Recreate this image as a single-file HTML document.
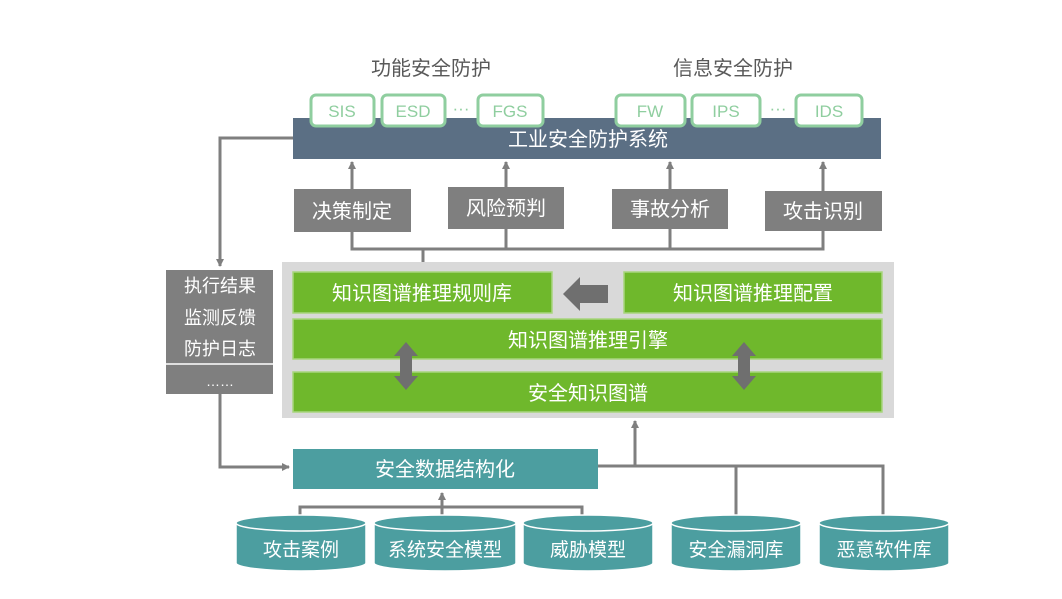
<!DOCTYPE html>
<html><head><meta charset="utf-8"><style>
html,body{margin:0;padding:0;background:#fff;}
svg text{font-family:"Liberation Sans","Noto Sans CJK SC",sans-serif;}
</style></head><body>
<svg width="1062" height="594" viewBox="0 0 1062 594" xmlns="http://www.w3.org/2000/svg">
<defs>
<marker id="ah" markerWidth="8" markerHeight="8" refX="7" refY="4" orient="auto" markerUnits="userSpaceOnUse">
<path d="M0,0 L8,4 L0,8 z" fill="#7f7f7f"/></marker>
</defs>
<g font-size="20" fill="#595959" text-anchor="middle">
<text x="431" y="75">功能安全防护</text>
<text x="733" y="75">信息安全防护</text>
</g>
<!-- main bar -->
<rect x="293" y="118" width="588" height="41" fill="#5b6f84"/>
<text x="588" y="146" font-size="20" fill="#fff" text-anchor="middle">工业安全防护系统</text>
<!-- small boxes -->
<g fill="#fff" stroke="#8fce9f" stroke-width="3">
<rect x="311" y="95" width="63" height="31" rx="5"/>
<rect x="382" y="95" width="63" height="31" rx="5"/>
<rect x="478" y="95" width="65" height="31" rx="5"/>
<rect x="616" y="95" width="69" height="31" rx="5"/>
<rect x="692" y="95" width="68" height="31" rx="5"/>
<rect x="796" y="95" width="66" height="31" rx="5"/>
</g>
<g font-size="17" fill="#8fce9f" text-anchor="middle">
<text x="342" y="117">SIS</text><text x="413" y="117">ESD</text><text x="510" y="117">FGS</text>
<text x="650" y="117">FW</text><text x="726" y="117">IPS</text><text x="829" y="117">IDS</text>
<text x="461" y="114">···</text><text x="778" y="114">···</text>
</g>
<!-- lines -->
<g stroke="#7f7f7f" stroke-width="3" fill="none">
<path d="M293,138 H220 V266" marker-end="url(#ah)"/>
<path d="M352,189 V162" marker-end="url(#ah)"/>
<path d="M506,188 V162" marker-end="url(#ah)"/>
<path d="M670,189 V162" marker-end="url(#ah)"/>
<path d="M823,191 V162" marker-end="url(#ah)"/>
<path d="M352,232 V249 H823 V231"/>
<path d="M506,229 V249 M670,229 V249"/>
<path d="M423,249 V272"/>
<path d="M220,394 V467 H289" marker-end="url(#ah)"/>
<path d="M598,466 H883 V516 M736,466 V518"/>
<path d="M635,466 V421" marker-end="url(#ah)"/>
<path d="M300,520 V507 H582 V520 M442,520 V493" marker-end="url(#ah)"/>
</g>
<!-- gray boxes -->
<g fill="#7f7f7f">
<rect x="294" y="189" width="117" height="43"/>
<rect x="448" y="187" width="116" height="42"/>
<rect x="612" y="189" width="116" height="40"/>
<rect x="765" y="191" width="117" height="40"/>
</g>
<g font-size="20" fill="#fff" text-anchor="middle">
<text x="352" y="218">决策制定</text><text x="506" y="215">风险预判</text>
<text x="670" y="216">事故分析</text><text x="823" y="218">攻击识别</text>
</g>
<!-- panel -->
<rect x="282" y="262" width="612" height="156" fill="#d9d9d9"/>
<g fill="#6fb82c" stroke="#a8d67e" stroke-width="1.5">
<rect x="293" y="272" width="259" height="41"/>
<rect x="624" y="272" width="258" height="41"/>
<rect x="293" y="319" width="589" height="40"/>
<rect x="293" y="372" width="589" height="40"/>
</g>
<g font-size="20" fill="#fff" text-anchor="middle">
<text x="422" y="300">知识图谱推理规则库</text>
<text x="753" y="300">知识图谱推理配置</text>
<text x="588" y="347">知识图谱推理引擎</text>
<text x="588" y="400">安全知识图谱</text>
</g>
<path d="M563,294 L580,277 V285 H608 V303 H580 V311 z" fill="#6f6f6f"/>
<path d="M406,342 L418,356 H412 V376 H418 L406,390 L394,376 H400 V356 H394 z" fill="#6f6f6f"/>
<path d="M744,342 L756,356 H750 V376 H756 L744,390 L732,376 H738 V356 H732 z" fill="#6f6f6f"/>
<!-- left box -->
<rect x="166" y="270" width="107" height="124" fill="#7f7f7f"/>
<line x1="166" y1="364" x2="273" y2="364" stroke="#fff" stroke-width="1.5"/>
<g font-size="18" fill="#fff" text-anchor="middle">
<text x="220" y="292">执行结果</text><text x="220" y="324">监测反馈</text><text x="220" y="355">防护日志</text>
<text x="220" y="386" font-size="14">……</text>
</g>
<!-- teal box -->
<rect x="293" y="449" width="305" height="40" fill="#4c9ea0"/>
<text x="445" y="476" font-size="20" fill="#fff" text-anchor="middle">安全数据结构化</text>
<!-- cylinders -->
<g fill="#4c9ea0" stroke="#fff" stroke-width="1.5">
<path d="M236,523 V563 A65,8 0 0 0 366,563 V523"/><ellipse cx="301" cy="523" rx="65" ry="8"/>
<path d="M374,523 V563 A71,8 0 0 0 516,563 V523"/><ellipse cx="445" cy="523" rx="71" ry="8"/>
<path d="M523,523 V563 A65,8 0 0 0 653,563 V523"/><ellipse cx="588" cy="523" rx="65" ry="8"/>
<path d="M671,523 V563 A65,8 0 0 0 801,563 V523"/><ellipse cx="736" cy="523" rx="65" ry="8"/>
<path d="M819,523 V563 A65,8 0 0 0 949,563 V523"/><ellipse cx="884" cy="523" rx="65" ry="8"/>
</g>
<g font-size="19" fill="#fff" text-anchor="middle">
<text x="301" y="556">攻击案例</text><text x="445" y="556">系统安全模型</text>
<text x="588" y="556">威胁模型</text><text x="736" y="556">安全漏洞库</text><text x="884" y="556">恶意软件库</text>
</g>
</svg>
</body></html>
